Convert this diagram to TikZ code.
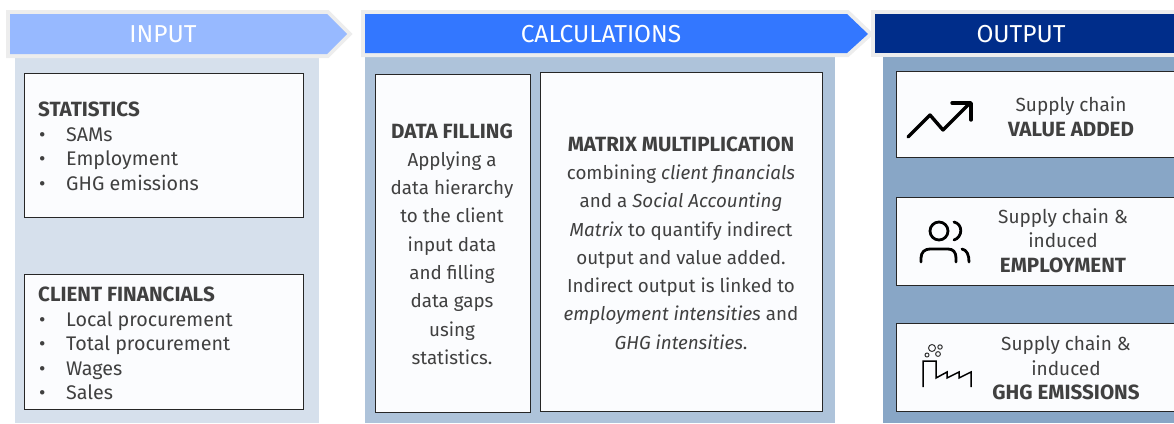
\documentclass[tikz,border=0pt]{standalone}
\usepackage{fontspec}
\setmainfont{Fira Sans}
\usepackage{tikz}
\usetikzlibrary{shadows}

\definecolor{inputhead}{HTML}{97B9FF}
\definecolor{calchead}{HTML}{3377FF}
\definecolor{outputhead}{HTML}{002D8A}
\definecolor{inputpanel}{HTML}{D6E0EC}
\definecolor{calcpanel}{HTML}{AEC3DA}
\definecolor{outputpanel}{HTML}{88A6C6}
\definecolor{boxfill}{HTML}{FBFCFE}
\definecolor{inktext}{HTML}{404040}

\newcommand{\bulletrow}[1]{\makebox[28pt][l]{\hspace{1pt}•}#1}
\newcommand{\titleword}[1]{{\fontsize{20.6}{\baselineskip}\selectfont\bfseries #1}}
\newcommand{\headarrow}[2]{\draw[headshape] #2; \fill[#1] #2;}

\begin{document}
\begin{tikzpicture}[x=1pt,y=-1pt,
    headshape/.style={draw=black!7, fill=black!7, line width=8pt, drop shadow={shadow xshift=0.5pt, shadow yshift=-2pt, fill=black, opacity=0.45}},
    headtext/.style={text=white, font=\fontsize{24.5}{26}\selectfont},
    infobox/.style={draw=black!85, line width=0.9pt, fill=boxfill},
    bodytext/.style={text=inktext, font=\fontsize{18.8}{28.3}\selectfont, align=center},
    listtext/.style={text=inktext, font=\fontsize{19.7}{24.5}\selectfont, align=left, anchor=north west, inner sep=0pt},
    sidetext/.style={text=inktext, font=\fontsize{19}{24.5}\selectfont, align=center},
    iconline/.style={draw=black, line width=2.8pt, line cap=round, line join=round}]
  \clip (0,0) rectangle (1174,423);

  % Panels
  \fill[inputpanel] (15,55) rectangle (319,423);
  \fill[calcpanel] (365,55) rectangle (835,423);
  \fill[outputpanel] (883,55) rectangle (1180,423);

  % Header arrows
  \headarrow{inputhead}{(10,14) -- (327,14) -- (347,34) -- (327,54) -- (10,54) -- cycle}
  \headarrow{calchead}{(365,14) -- (847,14) -- (868,34) -- (847,53) -- (365,53) -- cycle}
  \headarrow{outputhead}{(875,14) -- (1190,14) -- (1190,53) -- (875,53) -- cycle}
  \node[headtext] (inputlabel) at (163,34) {INPUT};
  \node[headtext] (calclabel) at (601,34) {CALCULATIONS};
  \node[headtext] (outputlabel) at (1021,34) {OUTPUT};

  % Input boxes
  \draw[infobox] (24,73) rectangle (303,217);
  \draw[infobox] (24,274) rectangle (303,409);
  \node[listtext] (statistics) at (38,102) {\titleword{STATISTICS}\\\bulletrow{SAMs}\\\bulletrow{Employment}\\\bulletrow{GHG emissions}};
  \node[listtext] (financials) at (38,287) {\titleword{CLIENT FINANCIALS}\\\bulletrow{Local procurement}\\\bulletrow{Total procurement}\\\bulletrow{Wages}\\\bulletrow{Sales}};

  % Calculation boxes
  \draw[infobox] (375,74) rectangle (530,412);
  \draw[infobox] (540,72) rectangle (822,411);
  \node[bodytext] (datafilling) at (452,244) {\titleword{DATA FILLING}\\Applying a\\data hierarchy\\to the client\\input data\\and filling\\data gaps\\using\\statistics.};
  \node[bodytext] (matrix) at (681,243) {\titleword{MATRIX MULTIPLICATION}\\combining \textit{client financials}\\and a \textit{Social Accounting}\\\textit{Matrix} to quantify indirect\\output and value added.\\Indirect output is linked to\\\textit{employment intensities} and\\\textit{GHG intensities}.};

  % Output boxes
  \draw[infobox] (896,71) rectangle (1180,157);
  \draw[infobox] (896,197) rectangle (1180,285);
  \draw[infobox] (896,323) rectangle (1180,411);
  \node[sidetext] (valueadded) at (1071,117) {Supply chain\\\titleword{VALUE ADDED}};
  \node[sidetext] (employment) at (1063,240.5) {Supply chain \&\\induced\\\titleword{EMPLOYMENT}};
  \node[sidetext] (ghg) at (1066,368) {Supply chain \&\\induced\\\titleword{GHG EMISSIONS}};

  % Trend icon
  \draw[iconline, line width=3.4pt] (908,137) -- (930,115) -- (943,130) -- (970,103);
  \draw[iconline, line width=3.4pt] (952,103) -- (971,103) -- (971,120);

  % People icon
  \draw[iconline] (939,231) circle (9);
  \draw[iconline] (921,262) -- (921,258) .. controls (921,252) and (925,249) .. (930,249) -- (948,249) .. controls (953,249) and (956,252) .. (956,258) -- (956,262);
  \draw[iconline] (954,222) .. controls (963,224) and (963,237) .. (954,240);
  \draw[iconline] (962,249) .. controls (967,250) and (969,255) .. (969,262);

  % Factory icon
  \draw[black, line width=1.5pt] (923,387) -- (923,361) -- (936,361) -- (936,378) -- (947,372) -- (947,378) -- (959,372) -- (959,378) -- (971,372) -- (971,387);
  \draw[black!80, line width=1pt] (927,355) circle (2) (932,348) circle (3.5) (940,347) circle (2.2) (938,354) circle (2.4);
\end{tikzpicture}
\end{document}
